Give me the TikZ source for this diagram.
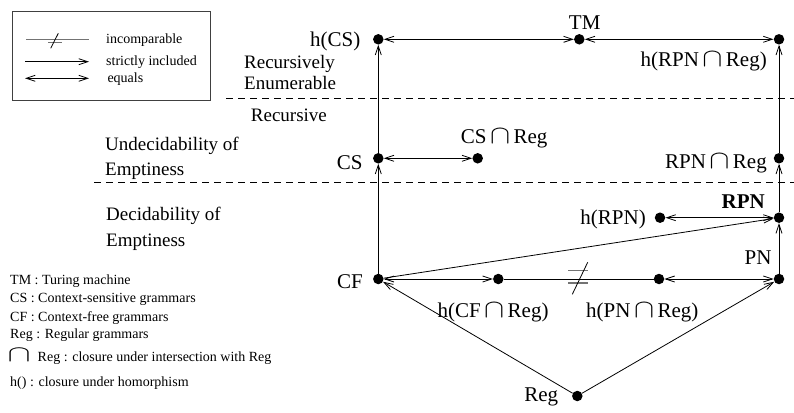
\documentclass[tikz,border=0pt]{standalone}
\usepackage{fontspec}
\setmainfont{Liberation Serif}
\usepackage{graphicx}
\usetikzlibrary{arrows.meta}
\newcommand\icap{\hspace{3.5pt}\scalebox{1.45}[1.25]{$\cap$}\hspace{3.5pt}}
\begin{document}
\begin{tikzpicture}[x=1pt,y=-1pt,
  dot/.style={circle,fill=black,inner sep=0pt,minimum size=10.5pt},
  lbl/.style={inner sep=0pt,font=\fontsize{21}{24}\selectfont},
  rlbl/.style={inner sep=0pt,anchor=base west,font=\fontsize{19}{22}\selectfont},
  leg/.style={inner sep=0pt,anchor=base west,font=\fontsize{14}{16}\selectfont},
  conn/.style={line width=0.8pt},
  arr/.style={conn,-{Straight Barb[length=9pt,width=6pt]}},
  darr/.style={conn,{Straight Barb[length=9pt,width=6pt]}-{Straight Barb[length=9pt,width=6pt]}},
  sep/.style={line width=0.7pt,dash pattern=on 7pt off 5pt},
  grayline/.style={black!55,line width=1.3pt}]
\useasboundingbox (0,0) rectangle (794,412);
\fill[white] (0,0) rectangle (794,412);

% separators
\draw[sep] (226,98.3) -- (794,98.3);
\draw[sep] (94,182.3) -- (794,182.3);

% dots
\node[dot] (hcs) at (378.3,39.3) {};
\node[dot] (tm) at (579.3,39.3) {};
\node[dot] (hrpnr) at (779,39.3) {};
\node[dot] (cs) at (378.3,158.3) {};
\node[dot] (csr) at (477.7,158.3) {};
\node[dot] (rpnr) at (779,158.3) {};
\node[dot] (hrpn) at (660,217.7) {};
\node[dot] (rpn) at (779,217.7) {};
\node[dot] (cf) at (378.3,279) {};
\node[dot] (hcfr) at (498.3,279) {};
\node[dot] (hpnr) at (659,279) {};
\node[dot] (pn) at (779,279) {};
\node[dot] (reg) at (577.3,396) {};

% connectors
\draw[darr] (hcs) -- (tm);
\draw[darr] (tm) -- (hrpnr);
\draw[arr] (cs) -- (hcs);
\draw[arr] (cf) -- (cs);
\draw[darr] (cs) -- (csr);
\draw[arr] (rpnr) -- (hrpnr);
\draw[arr] (rpn) -- (rpnr);
\draw[arr] (pn) -- (rpn);
\draw[darr] (hrpn) -- (rpn);
\draw[arr] (cf) -- (rpn);
\draw[darr] (cf) -- (hcfr);
\draw[conn] (hcfr) -- (hpnr);
\draw[darr] (hpnr) -- (pn);
\draw[arr] (reg) -- (cf);
\draw[arr] (reg) -- (pn);

% incomparable mark
\draw[grayline] (568.3,270.7) -- (588.3,270.7);
\draw[grayline] (568.3,283) -- (588.3,283);
\draw[conn] (572.3,294.3) -- (587.7,262.3);

% node labels
\node[lbl,anchor=base] (ltm) at (584.7,29.3) {TM};
\node[lbl,anchor=base east] (lhcs) at (360.5,46.7) {h(CS)};
\node[lbl,anchor=base east] (lhrpnr) at (767,66.7) {h(RPN\icap Reg)};
\node[lbl,anchor=base west] (lcsr) at (460.7,143.3) {CS\icap Reg};
\node[lbl,anchor=base east] (lcs) at (362.7,169) {CS};
\node[lbl,anchor=base east] (lrpnr) at (767,168.3) {RPN\icap Reg};
\node[lbl,anchor=base east] (lrpn) at (765,208.3) {\textbf{RPN}};
\node[lbl,anchor=base east] (lhrpn) at (646,224.3) {h(RPN)};
\node[lbl,anchor=base east] (lpn) at (771.7,264.3) {PN};
\node[lbl,anchor=base east] (lcf) at (363,288.3) {CF};
\node[lbl,anchor=base west] (lhcfr) at (437.3,317.3) {h(CF\icap Reg)};
\node[lbl,anchor=base west] (lhpnr) at (586,317.3) {h(PN\icap Reg)};
\node[lbl,anchor=base east] (lreg) at (558.3,401.7) {Reg};

% region labels
\node[rlbl] (r1) at (244,68.3) {Recursively};
\node[rlbl] (r2) at (244,89.5) {Enumerable};
\node[rlbl] (r3) at (250.7,121.7) {Recursive};
\node[rlbl] (r4) at (105,150.5) {Undecidability of};
\node[rlbl] (r5) at (105,175) {Emptiness};
\node[rlbl] (r6) at (106,220.7) {Decidability of};
\node[rlbl] (r7) at (106,246.5) {Emptiness};

% legend box
\draw[black!75,line width=0.9pt] (12.7,11) rectangle (210.7,100);
\coordinate (la1) at (26,39.3);
\coordinate (lb1) at (89,39.3);
\coordinate (la2) at (25,61.7);
\coordinate (lb2) at (89,61.7);
\coordinate (la3) at (25,78.3);
\coordinate (lb3) at (89,78.3);
\draw[grayline] (la1) -- (lb1);
\draw[grayline] (48.3,42.2) -- (61.7,42.2);
\draw[conn] (50.7,48.3) -- (58.3,33.3);
\draw[arr] (la2) -- (lb2);
\draw[darr] (la3) -- (lb3);
\node[leg] (t1) at (106,43.3) {incomparable};
\node[leg] (t2) at (106,65) {strictly included};
\node[leg] (t3) at (107.3,82) {equals};

% bottom legend
\node[leg] (k1) at (10,284.3) {TM : Turing machine};
\node[leg] (k2) at (10,302.7) {CS : Context-sensitive grammars};
\node[leg] (k3) at (10,321) {CF : Context-free grammars};
\node[leg] (k4) at (10,338.7) {Reg : Regular grammars};
\node[leg] (k5) at (7.5,361) {\scalebox{2.4}[1.6]{$\cap$}\hspace{7pt}Reg : closure under intersection with Reg};
\node[leg] (k6) at (10,386) {h() : closure under homorphism};
\end{tikzpicture}
\end{document}
